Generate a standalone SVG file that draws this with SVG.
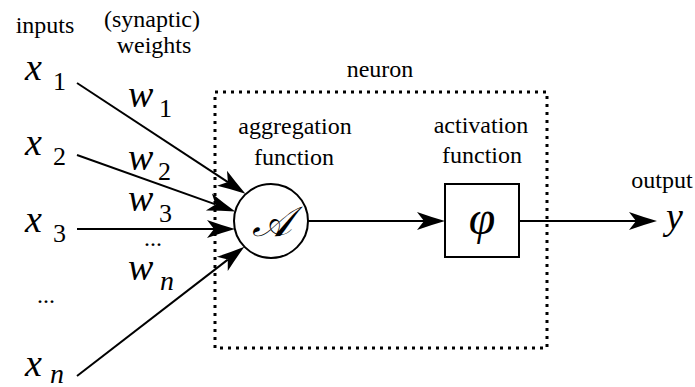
<svg xmlns="http://www.w3.org/2000/svg" width="695" height="387" viewBox="0 0 695 387" font-family="Liberation Serif">
<defs>
<marker id="arr" markerUnits="userSpaceOnUse" markerWidth="32" markerHeight="22" viewBox="-2 -11 32 22" refX="7" refY="0" orient="auto" overflow="visible">
<path d="M0,-9 Q14,-4 28,0 Q14,4 0,9 L7,0 Z" fill="#000"/>
</marker>
</defs>
<rect fill="#fff" width="695" height="387"/>
<text font-family="Liberation Serif" font-size="24" x="45" y="33" text-anchor="middle">inputs</text>
<g id="neuron-box">
<rect x="215" y="92" width="332" height="256" fill="none" stroke="#000" stroke-width="3" stroke-dasharray="3 5"/>
<text font-family="serif" font-size="24" x="380" y="77" text-anchor="middle">neuron</text>
</g>
<g id="headers">
<text font-family="Times New Roman" font-size="24" x="152" y="27" text-anchor="middle">(synaptic)</text>
<text font-family="Times New Roman" font-size="24" x="154" y="53" text-anchor="middle">weights</text>
</g>
<g id="connectors" stroke="#000" stroke-width="2" fill="none" marker-end="url(#arr)">
<line x1="77" y1="83" x2="227.9" y2="182.1"/>
<line x1="77" y1="155" x2="215.5" y2="204.4"/>
<line x1="77" y1="229" x2="214" y2="229"/>
<line x1="77" y1="376" x2="227.8" y2="259.6"/>
<line x1="308" y1="221" x2="424" y2="221"/>
<line x1="519" y1="221" x2="636" y2="221"/>
</g>
<g id="x1"><text font-family="Liberation Serif" font-style="italic" font-size="38" x="25" y="80">x</text><text font-family="Liberation Serif" font-size="26" x="53" y="90">1</text></g>
<g id="x2"><text font-family="Liberation Serif" font-style="italic" font-size="38" x="25" y="155">x</text><text font-family="Liberation Serif" font-size="26" x="53" y="165">2</text></g>
<g id="x3"><text font-family="Liberation Serif" font-style="italic" font-size="38" x="25" y="232">x</text><text font-family="Liberation Serif" font-size="26" x="53" y="242">3</text></g>
<g id="xdots"><text font-family="Liberation Serif" font-size="24" x="46" y="303" text-anchor="middle">...</text></g>
<g id="xn"><text font-family="Liberation Serif" font-style="italic" font-size="38" x="25" y="376">x</text><text font-family="Liberation Serif" font-style="italic" font-size="28" x="50" y="383">n</text></g>
<g id="w1"><text font-family="Liberation Serif" font-style="italic" font-size="38" x="128" y="107">w</text><text font-family="Liberation Serif" font-size="26" x="159" y="117">1</text></g>
<g id="w2"><text font-family="Liberation Serif" font-style="italic" font-size="38" x="128" y="170">w</text><text font-family="Liberation Serif" font-size="26" x="158" y="180">2</text></g>
<g id="w3"><text font-family="Liberation Serif" font-style="italic" font-size="38" x="128" y="211">w</text><text font-family="Liberation Serif" font-size="26" x="159" y="222">3</text></g>
<g id="wdots"><text font-family="Liberation Serif" font-size="24" x="153" y="246" text-anchor="middle">...</text></g>
<g id="wn"><text font-family="Liberation Serif" font-style="italic" font-size="38" x="128" y="280">w</text><text font-family="Liberation Serif" font-style="italic" font-size="28" x="160" y="290">n</text></g>
<g id="aggregation">
<text font-family="serif" font-size="24" x="295" y="134" text-anchor="middle">aggregation</text>
<text font-family="serif" font-size="24" x="294" y="165" text-anchor="middle">function</text>
<circle cx="271" cy="221" r="37" fill="#fff" stroke="#000" stroke-width="2"/>
<text x="272" y="236" font-size="42" font-family="DejaVu Serif" font-style="italic" text-anchor="middle">𝒜</text>
</g>
<g id="activation">
<text style="font-family:Liberation Serif" font-size="24" x="481" y="133" text-anchor="middle">activation</text>
<text style="font-family:Liberation Serif" font-size="24" x="482" y="163" text-anchor="middle">function</text>
<rect x="445" y="184" width="74" height="73" fill="#fff" stroke="#000" stroke-width="2"/>
<text font-family="Liberation Serif" font-style="italic" font-size="48" x="482" y="234" text-anchor="middle">φ</text>
</g>
<g id="output">
<text font-family="Liberation Serif" font-size="24" x="662" y="188" text-anchor="middle">output</text>
<text font-family="Liberation Serif" font-style="italic" font-size="38" x="666" y="229">y</text>
</g>
</svg>
